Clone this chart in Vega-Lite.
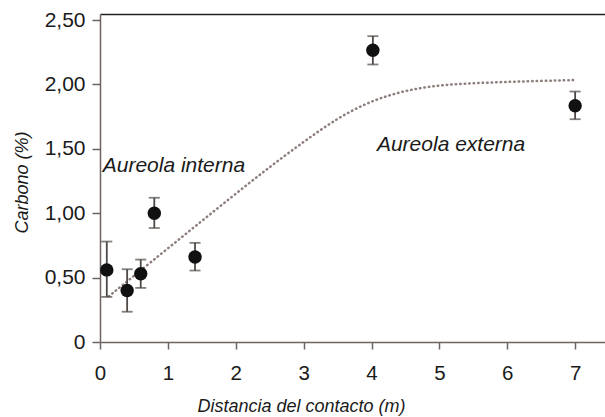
{
  "$schema": "https://vega.github.io/schema/vega-lite/v6.json",
  "width": 505,
  "height": 328,
  "autosize": "none",
  "padding": {"left": 100, "top": 14, "right": 0, "bottom": 75},
  "background": "white",
  "config": {"view": {"stroke": null}, "font": "Liberation Sans"},
  "datasets": {
    "points": [
      {"dist": 0.1, "carbon": 0.56, "lo": 0.35, "hi": 0.78},
      {"dist": 0.4, "carbon": 0.40, "lo": 0.235, "hi": 0.565},
      {"dist": 0.6, "carbon": 0.53, "lo": 0.42, "hi": 0.64},
      {"dist": 0.8, "carbon": 1.0, "lo": 0.885, "hi": 1.12},
      {"dist": 1.4, "carbon": 0.66, "lo": 0.555, "hi": 0.77},
      {"dist": 4.02, "carbon": 2.265, "lo": 2.155, "hi": 2.375},
      {"dist": 7.0, "carbon": 1.835, "lo": 1.73, "hi": 1.945}
    ],
    "curve": [
      {"dist": 0.13, "fit": 0.355},
      {"dist": 0.5, "fit": 0.514},
      {"dist": 1.0, "fit": 0.727},
      {"dist": 1.5, "fit": 0.94},
      {"dist": 2.0, "fit": 1.152},
      {"dist": 2.5, "fit": 1.36},
      {"dist": 3.0, "fit": 1.555},
      {"dist": 3.5, "fit": 1.74},
      {"dist": 4.0, "fit": 1.875},
      {"dist": 4.5, "fit": 1.955},
      {"dist": 5.0, "fit": 1.995},
      {"dist": 5.5, "fit": 2.01},
      {"dist": 6.0, "fit": 2.02},
      {"dist": 6.5, "fit": 2.028},
      {"dist": 7.0, "fit": 2.034}
    ],
    "labels": [
      {"x": 0.04, "y": 1.366, "t": "Aureola interna"},
      {"x": 4.08, "y": 1.53, "t": "Aureola externa"}
    ]
  },
  "layer": [
    {
      "data": {"name": "curve"},
      "mark": {"type": "line", "interpolate": "basis", "strokeDash": [0.5, 4], "strokeWidth": 2.5, "strokeCap": "round", "color": "#8c7f7c"},
      "encoding": {
        "x": {"field": "dist", "type": "quantitative", "scale": {"domain": [0, 7.44], "nice": false, "zero": false},
          "axis": {"values": [0, 1, 2, 3, 4, 5, 6, 7], "format": "d", "grid": false, "domainColor": "#6e6462", "domainWidth": 1.5, "tickColor": "#6e6462", "tickWidth": 1.5, "tickSize": 7, "labelFontSize": 20.5, "labelColor": "#1a1a1a", "labelPadding": 14, "labelFlush": false,
            "title": "Distancia del contacto (m)", "titleFontSize": 18, "titleFontStyle": "italic", "titleFontWeight": "normal", "titleColor": "#1a1a1a", "titleX": 201, "titleY": 64, "titleAnchor": "middle", "titleAlign": "center", "titleBaseline": "middle"}},
        "y": {"field": "fit", "type": "quantitative", "scale": {"domain": [0, 2.547], "nice": false, "zero": false}, "title": "Carbono (%)",
          "axis": {"values": [0, 0.5, 1, 1.5, 2, 2.5], "labelExpr": "datum.value == 0 ? '0' : replace(format(datum.value, '.2f'), '.', ',')", "grid": false, "domainColor": "#6e6462", "domainWidth": 1.5, "tickColor": "#6e6462", "tickWidth": 1.5, "tickSize": 8, "labelFontSize": 21, "labelColor": "#1a1a1a", "labelPadding": 7, "labelFlush": false,
            "titleFontSize": 18, "titleFontStyle": "italic", "titleFontWeight": "normal", "titleColor": "#1a1a1a", "titleX": -78, "titleY": 168, "titleAngle": -90, "titleAlign": "center", "titleBaseline": "middle", "titleAnchor": "middle"}}
      }
    },
    {
      "data": {"name": "points"},
      "mark": {"type": "errorbar", "ticks": {"size": 11, "thickness": 1.8, "color": "#4e4846"}, "thickness": 1.8, "color": "#4e4846"},
      "encoding": {
        "x": {"field": "dist", "type": "quantitative", "axis": null},
        "y": {"field": "lo", "type": "quantitative", "title": "Carbono (%)"},
        "y2": {"field": "hi"}
      }
    },
    {
      "data": {"name": "points"},
      "mark": {"type": "circle", "size": 180, "color": "#111111", "opacity": 1},
      "encoding": {
        "x": {"field": "dist", "type": "quantitative", "axis": null},
        "y": {"field": "carbon", "type": "quantitative", "title": "Carbono (%)"}
      }
    },
    {
      "data": {"name": "labels"},
      "mark": {"type": "text", "align": "left", "baseline": "middle", "fontStyle": "italic", "fontSize": 21, "color": "#1a1a1a"},
      "encoding": {
        "x": {"field": "x", "type": "quantitative", "axis": null},
        "y": {"field": "y", "type": "quantitative", "title": "Carbono (%)"},
        "text": {"field": "t"}
      }
    },
    {
      "data": {"name": "labels"},
      "mark": {"type": "point", "opacity": 0},
      "encoding": {
        "x": {"field": "x", "type": "quantitative", "axis": {"orient": "top", "labels": false, "ticks": false, "title": null, "grid": false, "domainColor": "#222222", "domainWidth": 1.5}},
        "y": {"field": "y", "type": "quantitative", "title": "Carbono (%)"}
      }
    }
  ],
  "resolve": {"axis": {"x": "independent"}}
}
